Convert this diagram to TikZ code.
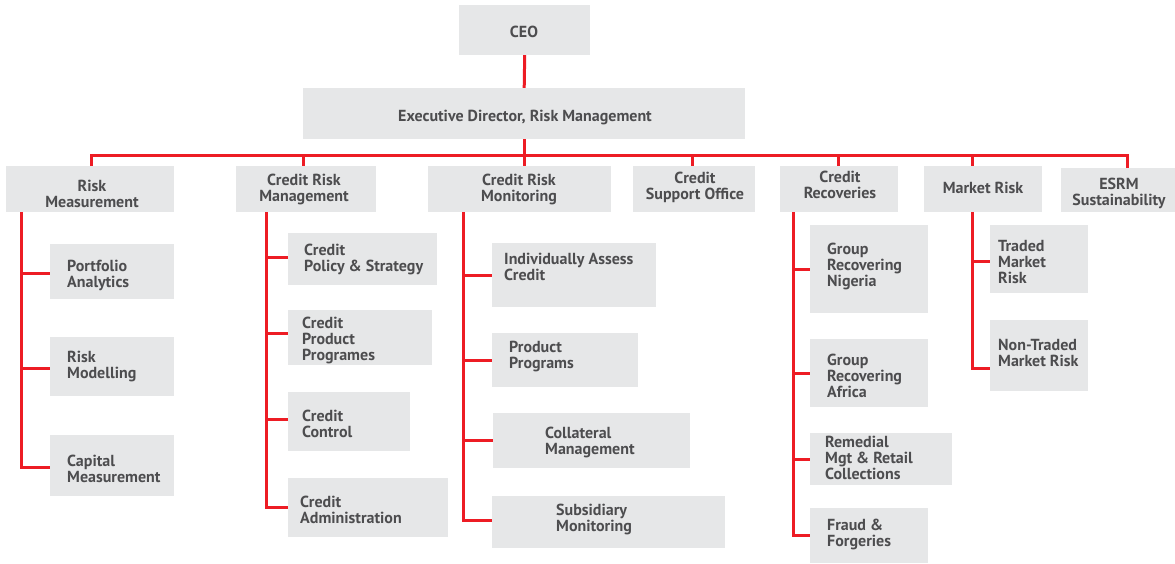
\documentclass[tikz,border=0pt]{standalone}
\usepackage{fontspec}
\setmainfont{PT Sans}
\usetikzlibrary{backgrounds}
\definecolor{boxgray}{HTML}{E6E7E8}
\definecolor{linered}{HTML}{ED1C24}
\definecolor{txtgray}{HTML}{4D4D4F}
\begin{document}
\begin{tikzpicture}[x=1pt,y=-1pt,
  box/.style={fill=boxgray, draw=none, inner sep=0pt, anchor=north west},
  txt/.style={text=txtgray, font=\bfseries\fontsize{16}{16}\selectfont, inner sep=0pt, align=left, anchor=west, yshift=-1.5pt},
  ctxt/.style={txt, align=center, anchor=center},
  link/.style={draw=linered, line width=3pt, line cap=rect, line join=miter}]
\useasboundingbox (0,0) rectangle (1175,563);
% top
\node[box, minimum width=131pt, minimum height=50pt] (ceo) at (459,5) {};
\node[ctxt] (ceo-t) at (524,30) {CEO};
\node[box, minimum width=442pt, minimum height=51pt] (ed) at (303,88) {};
\node[ctxt] (ed-t) at (525,116) {Executive Director, Risk Management};
% level 1
\node[box, minimum width=168pt, minimum height=46pt] (rm) at (6,166) {};
\node[ctxt] (rm-t) at (92,192) {Risk\\Measurement};
\node[box, minimum width=140pt, minimum height=46pt] (crm) at (236,166) {};
\node[ctxt] (crm-t) at (304,188) {Credit Risk\\Management};
\node[box, minimum width=183pt, minimum height=46pt] (crmon) at (428,166) {};
\node[ctxt] (crmon-t) at (519,188) {Credit Risk\\Monitoring};
\node[box, minimum width=122pt, minimum height=46pt] (cso) at (633,166) {};
\node[ctxt] (cso-t) at (695,186) {Credit\\Support Office};
\node[box, minimum width=118pt, minimum height=46pt] (cr) at (780,166) {};
\node[ctxt] (cr-t) at (840,183) {Credit\\Recoveries};
\node[box, minimum width=118pt, minimum height=46pt] (mr) at (924,166) {};
\node[ctxt] (mr-t) at (983,186) {Market Risk};
\node[box, minimum width=114pt, minimum height=44pt] (esrm) at (1061,168) {};
\node[ctxt] (esrm-t) at (1119,192) {ESRM\\Sustainability};
% Risk Measurement children
\node[box, minimum width=124pt, minimum height=55pt] (pa) at (50,244) {};
\node[txt] (pa-t) at (67,274) {Portfolio\\Analytics};
\node[box, minimum width=124pt, minimum height=59pt] (rmod) at (50,337) {};
\node[txt] (rmod-t) at (67,365) {Risk\\Modelling};
\node[box, minimum width=124pt, minimum height=61pt] (cap) at (50,435) {};
\node[txt] (cap-t) at (67,467) {Capital\\Measurement};
% Credit Risk Management children
\node[box, minimum width=149pt, minimum height=52pt] (cps) at (288,233) {};
\node[txt] (cps-t) at (304,258) {Credit\\Policy \& Strategy};
\node[box, minimum width=144pt, minimum height=55pt] (cpp) at (288,310) {};
\node[txt] (cpp-t) at (302,339) {Credit\\Product\\Programes};
\node[box, minimum width=122pt, minimum height=59pt] (cc) at (288,392) {};
\node[txt] (cc-t) at (302,422) {Credit\\Control};
\node[box, minimum width=160pt, minimum height=59pt] (ca) at (288,478) {};
\node[txt] (ca-t) at (300,508) {Credit\\Administration};
% Credit Risk Monitoring children
\node[box, minimum width=164pt, minimum height=64pt] (iac) at (492,243) {};
\node[txt] (iac-t) at (504,265) {Individually Assess\\Credit};
\node[box, minimum width=146pt, minimum height=54pt] (pp) at (492,333) {};
\node[txt] (pp-t) at (509,355) {Product\\Programs};
\node[box, minimum width=197pt, minimum height=55pt] (colm) at (493,413) {};
\node[txt] (colm-t) at (545,441) {Collateral\\Management};
\node[box, minimum width=233pt, minimum height=52pt] (sm) at (492,496) {};
\node[txt] (sm-t) at (556,518) {Subsidiary\\Monitoring};
% Credit Recoveries children
\node[box, minimum width=118pt, minimum height=88pt] (grn) at (810,225) {};
\node[txt] (grn-t) at (827,265) {Group\\Recovering\\Nigeria};
\node[box, minimum width=118pt, minimum height=68pt] (gra) at (810,339) {};
\node[txt] (gra-t) at (827,374) {Group\\Recovering\\Africa};
\node[box, minimum width=142pt, minimum height=52pt] (rem) at (810,433) {};
\node[txt] (rem-t) at (825,456) {Remedial\\Mgt \& Retail\\Collections};
\node[box, minimum width=118pt, minimum height=55pt] (ff) at (810,508) {};
\node[txt] (ff-t) at (827,533) {Fraud \&\\Forgeries};
% Market Risk children
\node[box, minimum width=98pt, minimum height=68pt] (tmr) at (990,225) {};
\node[txt] (tmr-t) at (998,261) {Traded\\Market\\Risk};
\node[box, minimum width=98pt, minimum height=71pt] (ntmr) at (990,320) {};
\node[txt] (ntmr-t) at (998,351) {Non-Traded\\Market Risk};
% connectors
\coordinate (b1) at (91,155);
\coordinate (b2) at (303,155);
\coordinate (b4) at (692,155);
\coordinate (b5) at (838,155);
\coordinate (b6) at (972,155);
\coordinate (b7) at (1127,155);
\coordinate (t1) at (21,0);
\coordinate (t2) at (266,0);
\coordinate (t3) at (463,0);
\coordinate (t5) at (793,0);
\coordinate (t6) at (972,0);
\begin{scope}[on background layer]
\draw[link] (ceo.south) -- (ed.north);
\draw[link] (ed.south) -- (ed.south |- crmon.north);
\draw[link] (b1 |- rm.north) -- (b1) -- (b7) -- (b7 |- esrm.north);
\draw[link] (b2) -- (b2 |- crm.north);
\draw[link] (b4) -- (b4 |- cso.north);
\draw[link] (b5) -- (b5 |- cr.north);
\draw[link] (b6) -- (b6 |- mr.north);
% Risk Measurement
\draw[link] (t1 |- rm.south) |- ([yshift=-1.5pt]pa.west);
\draw[link] (t1 |- rm.south) |- ([yshift=-1.5pt]rmod.west);
\draw[link] (t1 |- rm.south) |- ([yshift=-1.5pt]cap.west);
% Credit Risk Management
\draw[link] (t2 |- crm.south) |- ([yshift=2pt]cps.west);
\draw[link] (t2 |- crm.south) |- ([yshift=4pt]cpp.west);
\draw[link] (t2 |- crm.south) |- ([yshift=2.5pt]cc.west);
\draw[link] (t2 |- crm.south) |- (ca.west);
% Credit Risk Monitoring
\draw[link] (t3 |- crmon.south) |- (iac.west);
\draw[link] (t3 |- crmon.south) |- (pp.west);
\draw[link] (t3 |- crmon.south) |- (colm.west);
\draw[link] (t3 |- crmon.south) |- ([yshift=2pt]sm.west);
% Credit Recoveries
\draw[link] (t5 |- cr.south) |- (grn.west);
\draw[link] (t5 |- cr.south) |- (gra.west);
\draw[link] (t5 |- cr.south) |- (rem.west);
\draw[link] (t5 |- cr.south) |- (ff.west);
% Market Risk
\draw[link] (t6 |- mr.south) |- ([yshift=-2pt]tmr.west);
\draw[link] (t6 |- mr.south) |- ([yshift=-12.5pt]ntmr.west);
\end{scope}
\end{tikzpicture}
\end{document}
